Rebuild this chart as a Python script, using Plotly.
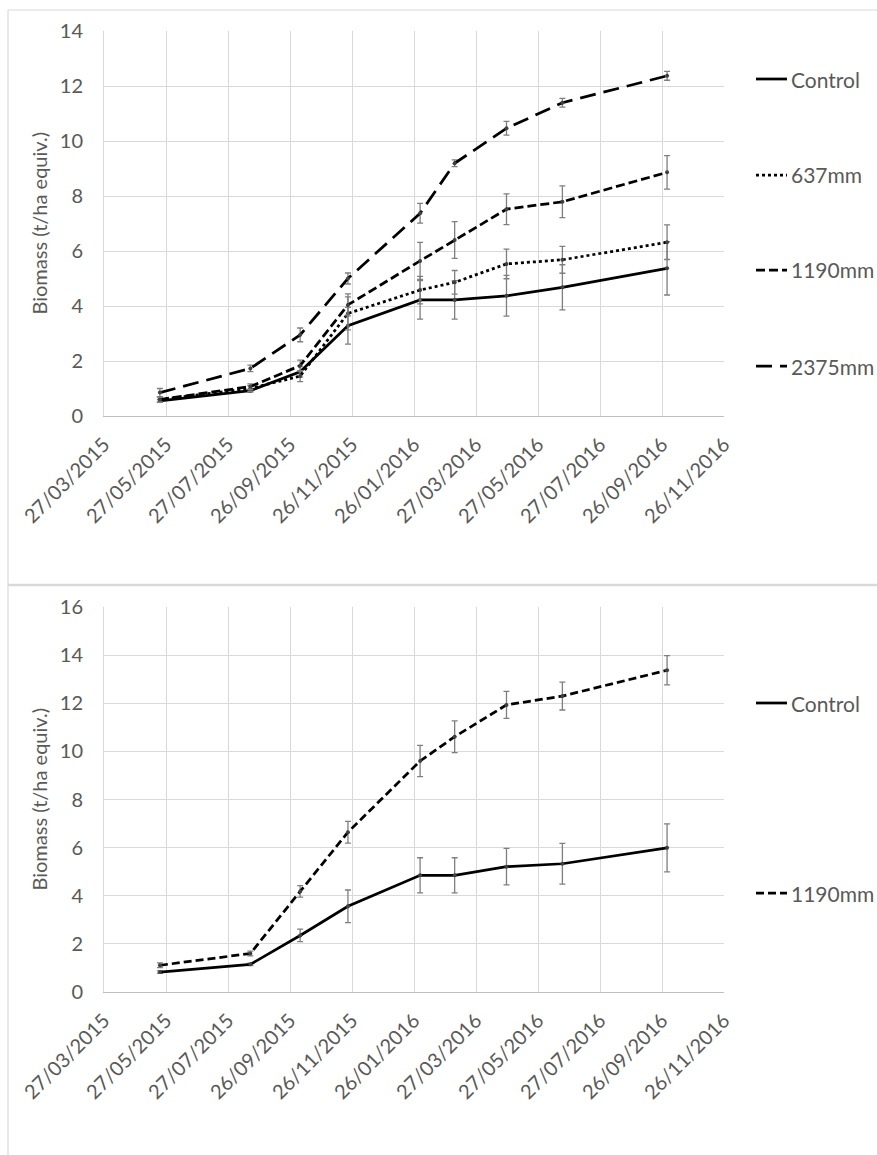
import plotly.graph_objects as go

W, H = 877, 1155

# ---------------- data ----------------
dates = ["2015-05-21", "2015-08-18", "2015-10-06", "2015-11-22", "2016-02-01",
         "2016-03-06", "2016-04-26", "2016-06-20", "2016-10-01"]

tick_dates = ["2015-03-27", "2015-05-27", "2015-07-27", "2015-09-26", "2015-11-26",
              "2016-01-26", "2016-03-27", "2016-05-27", "2016-07-27", "2016-09-26",
              "2016-11-26"]
tick_labels = ["27/03/2015", "27/05/2015", "27/07/2015", "26/09/2015", "26/11/2015",
               "26/01/2016", "27/03/2016", "27/05/2016", "27/07/2016", "26/09/2016",
               "26/11/2016"]

# top panel
top_control = [0.55, 0.92, 1.61, 3.28, 4.22, 4.22, 4.37, 4.68, 5.37]
top_control_err = [0.05, 0.05, 0.20, 0.67, 0.70, 0.70, 0.74, 0.82, 0.97]
top_637 = [0.60, 1.00, 1.45, 3.73, 4.58, 4.86, 5.53, 5.68, 6.32]
top_637_err = [0.10, 0.10, 0.20, 0.60, 0.50, 0.43, 0.54, 0.49, 0.63]
top_1190 = [0.60, 1.07, 1.83, 4.04, 5.64, 6.40, 7.52, 7.79, 8.86]
top_1190_err = [0.10, 0.10, 0.20, 0.40, 0.67, 0.67, 0.56, 0.58, 0.61]
top_2375 = [0.85, 1.73, 2.95, 5.00, 7.37, 9.19, 10.46, 11.39, 12.37]
top_2375_err = [0.15, 0.12, 0.25, 0.20, 0.36, 0.12, 0.25, 0.16, 0.16]

# bottom panel
bot_control = [0.83, 1.15, 2.35, 3.56, 4.85, 4.85, 5.21, 5.33, 5.99]
bot_control_err = [0.05, 0.05, 0.26, 0.68, 0.73, 0.73, 0.76, 0.85, 1.00]
bot_1190 = [1.11, 1.60, 4.18, 6.64, 9.60, 10.61, 11.93, 12.30, 13.37]
bot_1190_err = [0.10, 0.10, 0.24, 0.45, 0.65, 0.66, 0.56, 0.58, 0.61]

top_names = ["Control", "637mm", "1190mm", "2375mm"]
bot_names = ["Control", "1190mm"]

# ---------------- styling ----------------
FONT = "Lato"
TXT = "#595959"
GRID = "#d9d9d9"
ERR = "#7f7f7f"
LW = 2.75

dash_top = ["solid", "3px,3px", "9px,4px", "16px,8px"]
dash_bot = ["solid", "8px,4px"]


def px2x(p):
    return p / W


def px2y(p):
    return 1 - p / H


fig = go.Figure()


def add_series(x, y, err, name, dash, xa, ya):
    fig.add_trace(go.Scatter(
        x=x, y=y, name=name, mode="lines+markers",
        line=dict(color="black", width=LW, dash=dash),
        marker=dict(size=4, color="#404040"),
        error_y=dict(type="data", array=err, visible=True, color=ERR,
                     thickness=1.3, width=3),
        xaxis=xa, yaxis=ya, showlegend=False, hoverinfo="skip"))


for y, e, n, d in zip([top_control, top_637, top_1190, top_2375],
                      [top_control_err, top_637_err, top_1190_err, top_2375_err],
                      top_names, dash_top):
    add_series(dates, y, e, n, d, "x", "y")

for y, e, n, d in zip([bot_control, bot_1190],
                      [bot_control_err, bot_1190_err],
                      bot_names, dash_bot):
    add_series(dates, y, e, n, d, "x2", "y2")

# plot area geometry (px)
PL, PR = 104, 724
T_TOP, T_BOT = 31, 416
B_TOP, B_BOT = 607, 992

xaxis_common = dict(
    type="date", range=["2015-03-27", "2016-11-26"],
    tickvals=tick_dates, ticktext=tick_labels, tickangle=-45,
    showgrid=True, gridcolor=GRID, gridwidth=1,
    showline=True, linecolor="#bfbfbf", linewidth=1,
    ticks="", zeroline=False, automargin=False, ticklabelstandoff=8,
    tickfont=dict(family=FONT, size=20, color=TXT),
    domain=[px2x(PL), px2x(PR)],
)
yaxis_common = dict(
    showgrid=True, gridcolor=GRID, gridwidth=1,
    showline=True, linecolor="#d9d9d9", linewidth=1,
    ticks="", zeroline=False, dtick=2, automargin=False, ticklabelstandoff=16,
    tickfont=dict(family=FONT, size=20, color=TXT),
)

fig.update_layout(
    width=W, height=H, margin=dict(l=0, r=0, t=0, b=0, autoexpand=False),
    paper_bgcolor="white", plot_bgcolor="white",
    xaxis=dict(xaxis_common, anchor="y"),
    yaxis=dict(yaxis_common, range=[0, 14],
               domain=[px2y(T_BOT), px2y(T_TOP)], anchor="x"),
    xaxis2=dict(xaxis_common, anchor="y2"),
    yaxis2=dict(yaxis_common, range=[0, 16],
                domain=[px2y(B_BOT), px2y(B_TOP)], anchor="x2"),
)

shapes = []
annotations = []

# chart-area borders
BORDER = "#d9d9d9"
shapes.append(dict(type="line", xref="paper", yref="paper",
                   x0=px2x(8), x1=1, y0=px2y(10), y1=px2y(10),
                   line=dict(color=BORDER, width=1.2)))
shapes.append(dict(type="line", xref="paper", yref="paper",
                   x0=px2x(8), x1=px2x(8), y0=px2y(10), y1=0,
                   line=dict(color=BORDER, width=1.2)))
shapes.append(dict(type="line", xref="paper", yref="paper",
                   x0=px2x(8), x1=1, y0=px2y(585), y1=px2y(585),
                   line=dict(color=BORDER, width=2.5)))

# y-axis titles
for yc in [(T_TOP + T_BOT) / 2, (B_TOP + B_BOT) / 2]:
    annotations.append(dict(text="Biomass (t/ha equiv.)", xref="paper", yref="paper",
                            x=px2x(38), y=px2y(yc), textangle=-90, showarrow=False,
                            font=dict(family=FONT, size=20, color=TXT),
                            xanchor="center", yanchor="middle"))


# legends (manual, spread like the original)
def legend(names, dashes, ys):
    for n, d, yy in zip(names, dashes, ys):
        shapes.append(dict(type="line", xref="paper", yref="paper",
                           x0=px2x(756), x1=px2x(787), y0=px2y(yy), y1=px2y(yy),
                           line=dict(color="black", width=LW, dash=d)))
        annotations.append(dict(text=n, xref="paper", yref="paper",
                                x=px2x(789), y=px2y(yy), showarrow=False,
                                xanchor="left", yanchor="middle",
                                font=dict(family=FONT, size=21, color=TXT)))


legend(top_names, dash_top, [79, 175, 270, 366])
legend(bot_names, dash_bot, [703, 893])

fig.update_layout(shapes=shapes, annotations=annotations)

fig.write_html("out.html", config={"displayModeBar": False},
               post_script="document.body.style.margin='0';document.body.style.overflow='hidden';")
